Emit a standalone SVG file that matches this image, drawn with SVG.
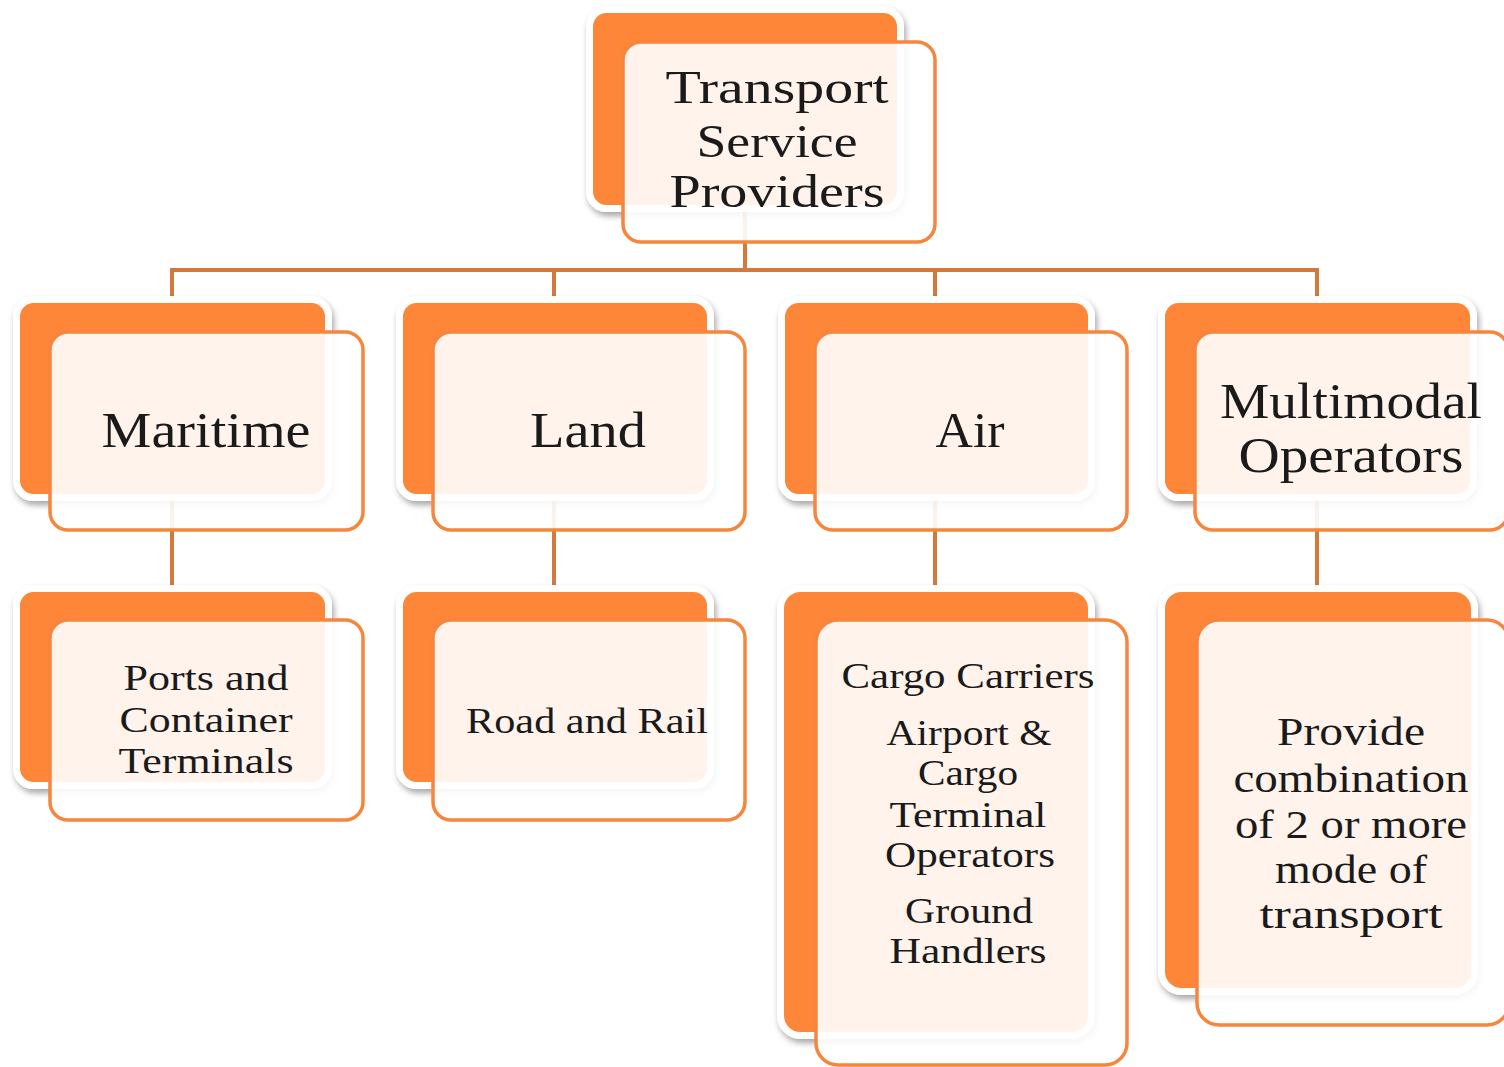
<svg xmlns="http://www.w3.org/2000/svg" width="1504" height="1067" viewBox="0 0 1504 1067">
<defs>
<filter id="sh" x="-10%" y="-10%" width="125%" height="125%">
<feDropShadow dx="2" dy="4" stdDeviation="3" flood-color="#000" flood-opacity="0.35"/>
</filter>
<style>
.back{fill:#FD8638;stroke:#fff;stroke-width:7;filter:url(#sh)}
.front{fill:#fff;fill-opacity:0.9;stroke:#F6853D;stroke-width:3.5}
.conn{stroke:#D4783C;stroke-width:4;fill:none}
text{font-family:"Liberation Serif","Times New Roman",serif;fill:#1a1a1a;text-anchor:middle}
.t1{font-size:46px}
.t2{font-size:50px}
.t3{font-size:36px}
.t4{font-size:35px}
.t5{font-size:40px}
</style>
</defs>
<rect width="1504" height="1067" fill="#fff"/>
<g id="connectors">
<path class="conn" d="M745 200V270M172 270H1317M172 268V600M554 268V600M935 268V600M1317 268V600"/>
</g>
<g id="n-top">
<rect class="back" x="589.500" y="9.500" width="311" height="199" rx="17"/>
<rect class="front" x="623" y="42" width="312" height="200" rx="18"/>
<text class="t1" x="777" y="103" textLength="223" lengthAdjust="spacingAndGlyphs">Transport</text>
<text class="t1" x="777" y="157" textLength="161" lengthAdjust="spacingAndGlyphs">Service</text>
<text class="t1" x="777" y="207" textLength="215" lengthAdjust="spacingAndGlyphs">Providers</text>
</g>
<g id="n-maritime">
<rect class="back" x="16.500" y="299.500" width="312" height="198" rx="17"/>
<rect class="front" x="50" y="332" width="313" height="198" rx="18"/>
<text class="t2" x="206" y="447" textLength="209" lengthAdjust="spacingAndGlyphs">Maritime</text>
</g>
<g id="n-land">
<rect class="back" x="399.500" y="299.500" width="311" height="198" rx="17"/>
<rect class="front" x="433" y="332" width="312" height="198" rx="18"/>
<text class="t2" x="588" y="447" textLength="116" lengthAdjust="spacingAndGlyphs">Land</text>
</g>
<g id="n-air">
<rect class="back" x="781.500" y="299.500" width="310" height="198" rx="17"/>
<rect class="front" x="815" y="332" width="312" height="198" rx="18"/>
<text class="t2" x="970" y="447" textLength="69" lengthAdjust="spacingAndGlyphs">Air</text>
</g>
<g id="n-multimodal">
<rect class="back" x="1161.500" y="299.500" width="312" height="198" rx="17"/>
<rect class="front" x="1195" y="332" width="313" height="198" rx="18"/>
<text class="t2" x="1351" y="418" textLength="262" lengthAdjust="spacingAndGlyphs">Multimodal</text>
<text class="t2" x="1351" y="472" textLength="225" lengthAdjust="spacingAndGlyphs">Operators</text>
</g>
<g id="n-ports">
<rect class="back" x="16.500" y="588.500" width="312" height="197" rx="17"/>
<rect class="front" x="50" y="620" width="313" height="200" rx="18"/>
<text class="t3" x="206" y="690" textLength="165" lengthAdjust="spacingAndGlyphs">Ports and</text>
<text class="t3" x="206" y="732" textLength="173" lengthAdjust="spacingAndGlyphs">Container</text>
<text class="t3" x="206" y="773" textLength="175" lengthAdjust="spacingAndGlyphs">Terminals</text>
</g>
<g id="n-road">
<rect class="back" x="399.500" y="588.500" width="311" height="197" rx="17"/>
<rect class="front" x="433" y="620" width="312" height="200" rx="18"/>
<text class="t3" x="587" y="733" textLength="242" lengthAdjust="spacingAndGlyphs">Road and Rail</text>
</g>
<g id="n-aircargo">
<rect class="back" x="780.500" y="588.500" width="311" height="447" rx="20"/>
<rect class="front" x="816" y="620" width="311" height="445" rx="22"/>
<text class="t4" x="968" y="688" textLength="253" lengthAdjust="spacingAndGlyphs">Cargo Carriers</text>
<text class="t4" x="969" y="745" textLength="165" lengthAdjust="spacingAndGlyphs">Airport &amp;</text>
<text class="t4" x="968" y="785" textLength="100" lengthAdjust="spacingAndGlyphs">Cargo</text>
<text class="t4" x="968" y="827" textLength="157" lengthAdjust="spacingAndGlyphs">Terminal</text>
<text class="t4" x="970" y="867" textLength="170" lengthAdjust="spacingAndGlyphs">Operators</text>
<text class="t4" x="969" y="923" textLength="128" lengthAdjust="spacingAndGlyphs">Ground</text>
<text class="t4" x="968" y="963" textLength="157" lengthAdjust="spacingAndGlyphs">Handlers</text>
</g>
<g id="n-combination">
<rect class="back" x="1161.500" y="588.500" width="313" height="403" rx="20"/>
<rect class="front" x="1197" y="620" width="312" height="405" rx="22"/>
<text class="t5" x="1351" y="745" textLength="148" lengthAdjust="spacingAndGlyphs">Provide</text>
<text class="t5" x="1351" y="792" textLength="235" lengthAdjust="spacingAndGlyphs">combination</text>
<text class="t5" x="1351" y="838" textLength="232" lengthAdjust="spacingAndGlyphs">of 2 or more</text>
<text class="t5" x="1351" y="883" textLength="152" lengthAdjust="spacingAndGlyphs">mode of</text>
<text class="t5" x="1351" y="928" textLength="183" lengthAdjust="spacingAndGlyphs">transport</text>
</g>
</svg>
